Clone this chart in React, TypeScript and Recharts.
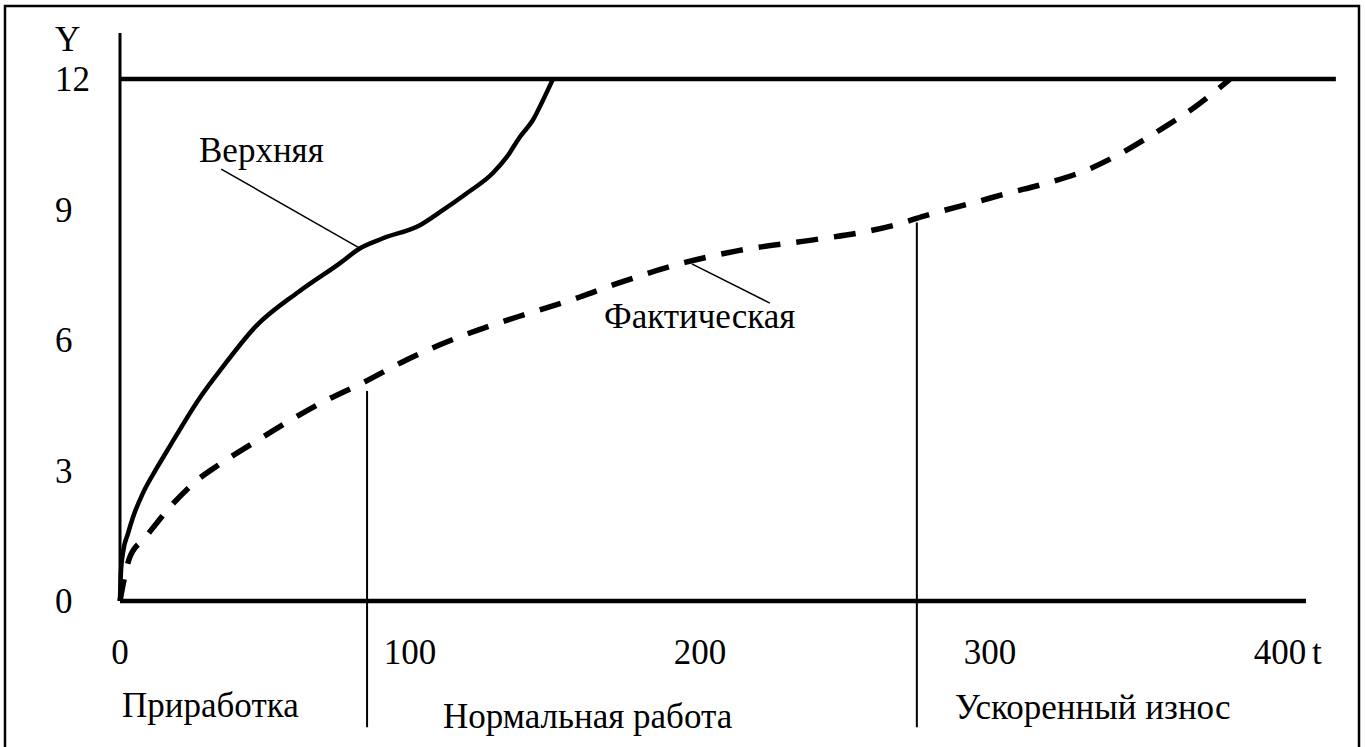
import { LineChart, Line, XAxis, YAxis, ReferenceLine } from 'recharts';

// оси
const xTicks = [0, 100, 200, 300, 400];
const yTicks = [0, 3, 6, 9, 12];
const yLimit = 12;

// верхняя граница износа (сплошная)
const upperT = [0, 0.3, 1.0, 2.8, 4.5, 7.9, 12.8, 17.2, 27.2, 35.2, 46.9, 61.4, 75.9, 82.8, 90.7, 103.4, 110.3, 119.7, 128.6, 133.4, 137.9, 142.4, 145.9, 149.3];
const upperY = [0, 0.64, 1.1, 1.56, 1.93, 2.48, 3.07, 3.56, 4.64, 5.36, 6.32, 7.1, 7.77, 8.11, 8.34, 8.64, 8.94, 9.38, 9.84, 10.21, 10.67, 11.06, 11.52, 12];

// фактический износ (пунктир)
const factT = [0, 3.4, 8.6, 17.9, 27.6, 33.8, 45.9, 57.6, 70.7, 84.1, 97.2, 110.3, 123.4, 136.9, 158.6, 171.0, 195.2, 212.8, 240.7, 256.2, 268.6, 277.2, 296.6, 305.2, 319.7, 333.4, 345.9, 358.6, 370.7, 382.8];
const factY = [0, 1.01, 1.45, 2.21, 2.83, 3.12, 3.63, 4.11, 4.6, 5.03, 5.49, 5.89, 6.23, 6.53, 6.99, 7.29, 7.79, 8.05, 8.32, 8.48, 8.67, 8.85, 9.2, 9.36, 9.61, 9.91, 10.32, 10.83, 11.36, 12];

// границы периодов: t, верх линии
const phaseT = [85.2, 274.8];
const phaseTop = [4.83, 8.7];
const phaseBottom = -2.9;

// выноски: [t1, y1, t2, y2]
const upperLeader = [34.9, 9.93, 82.8, 8.11];
const factLeader = [197.2, 7.75, 224.1, 6.85];

const upperData = upperT.map((t, i) => ({ t, y: upperY[i] }));
const factData = factT.map((t, i) => ({ t, y: factY[i] }));

const FONT = "'Liberation Serif', 'DejaVu Serif', serif";
const FS = 35;

const XTick = ({ x, y, payload }: any) => (
  <text x={x} y={y} dy={24} textAnchor="middle" fontFamily={FONT} fontSize={FS} fill="#000">
    {payload.value}
  </text>
);

const YTick = ({ x, y, payload }: any) => (
  <text x={x} y={y} dy={12} textAnchor="start" fontFamily={FONT} fontSize={FS} fill="#000">
    {payload.value}
  </text>
);

const txt = { fontFamily: FONT, fontSize: FS, fill: '#000' };

export default function App() {
  return (
    <div style={{ position: 'absolute', left: 0, top: 0, width: 1365, height: 747, background: '#fff', overflow: 'hidden', fontFamily: FONT }}>
      <LineChart width={1365} height={747} margin={{ top: 33, right: 59, bottom: 86, left: 0 }}>
        <XAxis
          type="number"
          dataKey="t"
          domain={[0, 409]}
          ticks={xTicks}
          height={60}
          tickSize={0}
          tickMargin={39}
          tick={<XTick />}
          axisLine={{ stroke: '#000', strokeWidth: 4.5 }}
          tickLine={false}
        />
        <YAxis
          type="number"
          dataKey="y"
          domain={[0, 13.06]}
          ticks={yTicks}
          width={120}
          tickSize={0}
          tickMargin={65}
          tick={<YTick />}
          axisLine={{ stroke: '#000', strokeWidth: 3 }}
          tickLine={false}
        />
        <ReferenceLine
          segment={[{ x: 0, y: yLimit }, { x: 419.3, y: yLimit }]}
          stroke="#000"
          strokeWidth={4.5}
          ifOverflow="visible"
        />
        {phaseT.map((t, i) => (
          <ReferenceLine
            key={`phase-${i}`}
            segment={[{ x: t, y: phaseTop[i] }, { x: t, y: phaseBottom }]}
            stroke="#000"
            strokeWidth={2}
            ifOverflow="visible"
          />
        ))}
        <ReferenceLine
          segment={[{ x: upperLeader[0], y: upperLeader[1] }, { x: upperLeader[2], y: upperLeader[3] }]}
          stroke="#000"
          strokeWidth={1.5}
          ifOverflow="visible"
        />
        <ReferenceLine
          segment={[{ x: factLeader[0], y: factLeader[1] }, { x: factLeader[2], y: factLeader[3] }]}
          stroke="#000"
          strokeWidth={1.5}
          ifOverflow="visible"
        />
        <Line
          data={upperData}
          dataKey="y"
          type="monotone"
          stroke="#000"
          strokeWidth={4.5}
          dot={false}
          activeDot={false}
          isAnimationActive={false}
        />
        <Line
          data={factData}
          dataKey="y"
          type="monotone"
          stroke="#000"
          strokeWidth={5.5}
          strokeDasharray="22 16"
          dot={false}
          activeDot={false}
          isAnimationActive={false}
        />
      </LineChart>
      <svg width={1365} height={747} style={{ position: 'absolute', left: 0, top: 0, pointerEvents: 'none' }}>
        <polyline points="5,760 5,6 1359,6 1359,760" fill="none" stroke="#000" strokeWidth={2.5} />
        <text x={55} y={51} {...txt}>Y</text>
        <text x={1312} y={664} {...txt}>t</text>
        <text x={199} y={162} {...txt}>Верхняя</text>
        <text x={604} y={328} {...txt}>Фактическая</text>
        <text x={122} y={717} {...txt}>Приработка</text>
        <text x={443} y={728} {...txt}>Нормальная работа</text>
        <text x={955} y={719} {...txt}>Ускоренный износ</text>
      </svg>
    </div>
  );
}
